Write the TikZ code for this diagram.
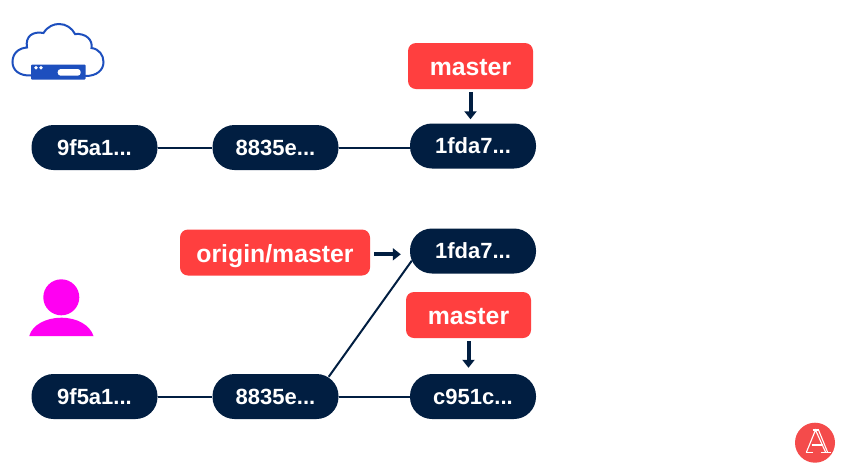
\documentclass[tikz,border=0pt]{standalone}
\usepackage{fontspec}
\setmainfont{Liberation Sans}
\usetikzlibrary{arrows.meta,calc}
\definecolor{navy}{HTML}{011E41}
\definecolor{redbox}{HTML}{FF3F3F}
\definecolor{cloudblue}{HTML}{1D4FBE}
\definecolor{persona}{HTML}{FF00F2}
\definecolor{logored}{HTML}{F44B4B}
\tikzset{
  commit/.style={fill=navy,text=white,rounded corners=22pt,minimum width=126pt,minimum height=45pt,inner sep=0pt,text height=15pt,text depth=0pt,font=\fontsize{22}{24}\selectfont\bfseries},
  branch/.style={fill=redbox,text=white,rounded corners=8pt,minimum height=46pt,inner sep=0pt,text height=19.5pt,text depth=0pt,font=\fontsize{24.8}{26}\selectfont\bfseries},
  link/.style={navy,line width=2pt},
  pointer/.style={navy,line width=4pt,-{Triangle[width=12pt,length=8pt]}},
  logoline/.style={white,line width=1.1pt}
}
\begin{document}
\begin{tikzpicture}[x=1pt,y=-1pt]
\useasboundingbox[fill=white] (0,0) rectangle (841,475);
% commits
\node[commit] (a1) at (94.5,147.5) {9f5a1...};
\node[commit] (b1) at (275.5,147.5) {8835e...};
\node[commit] (c1) at (473,146) {1fda7...};
\node[commit] (c2) at (473,251) {1fda7...};
\node[commit] (a2) at (94.5,396.5) {9f5a1...};
\node[commit] (b2) at (275.5,396.5) {8835e...};
\node[commit] (d2) at (473,396.5) {c951c...};
% branches
\node[branch,minimum width=125pt] (m1) at (470.5,66) {master};
\node[branch,minimum width=190pt] (o2) at (275,252.5) {origin/master};
\node[branch,minimum width=125pt] (m2) at (468.5,315) {master};
% connectors
\draw[link] (a1) -- (b1);
\draw[link] (b1) -- (c1.west |- b1);
\draw[link] (a2) -- (b2);
\draw[link] (b2) -- (d2);
\draw[link] ($(b2.north east)+(-10,3)$) -- ($(c2.south west)+(2,-13)$);
\draw[pointer,shorten <=3pt,shorten >=4pt] (m1.south) -- (m1.south |- c1.north);
\draw[pointer,shorten <=3pt,shorten >=6pt] (m2.south) -- (m2.south |- d2.north);
\draw[pointer,shorten <=4pt,shorten >=9pt] ([yshift=-1.8pt]o2.east) -- ([yshift=-1.8pt]o2.east -| c2.west);
% cloud
\draw[cloudblue,line width=2pt,line cap=round]
  (31,75.5) .. controls (19,76) and (12.5,70) .. (12.5,62)
  .. controls (12.5,53) and (19,48) .. (27,47.5)
  .. controls (25,36) and (33,31) .. (43.5,33)
  .. controls (48,26) and (54,24) .. (59,24)
  .. controls (66,24) and (72,28) .. (75,34)
  .. controls (86,33) and (93,40) .. (91.5,48)
  .. controls (99,49) and (103.5,55) .. (103.5,62)
  .. controls (103.5,70) and (97,76) .. (85.5,76);
\fill[cloudblue,rounded corners=1pt] (31,64.5) rectangle (85.7,79.5);
\fill[white] (36,67.7) circle (1.8);
\fill[white] (41,67.7) circle (1.8);
\fill[white,rounded corners=3pt] (57.7,69) rectangle (80.7,75.7);
% person
\fill[persona] (61.3,297.3) circle (18);
\fill[persona] (29.3,336) .. controls (32,325) and (46,317.7) .. (61.3,317.7)
  .. controls (77,317.7) and (90,325) .. (93.5,336) -- cycle;
% logo
\fill[logored] (815,442.7) circle (20);
\draw[logoline] (806.5,452) -- (815.5,430) -- (825.5,452);
\draw[logoline] (818.5,430) -- (827.5,452);
\draw[logoline] (811.5,445) -- (822.5,445);
\draw[logoline] (805.5,452.5) -- (812.5,452.5);
\draw[logoline] (820.5,452.5) -- (830.5,452.5);
\draw[logoline] (812.5,430) -- (818.5,430);
\end{tikzpicture}
\end{document}
